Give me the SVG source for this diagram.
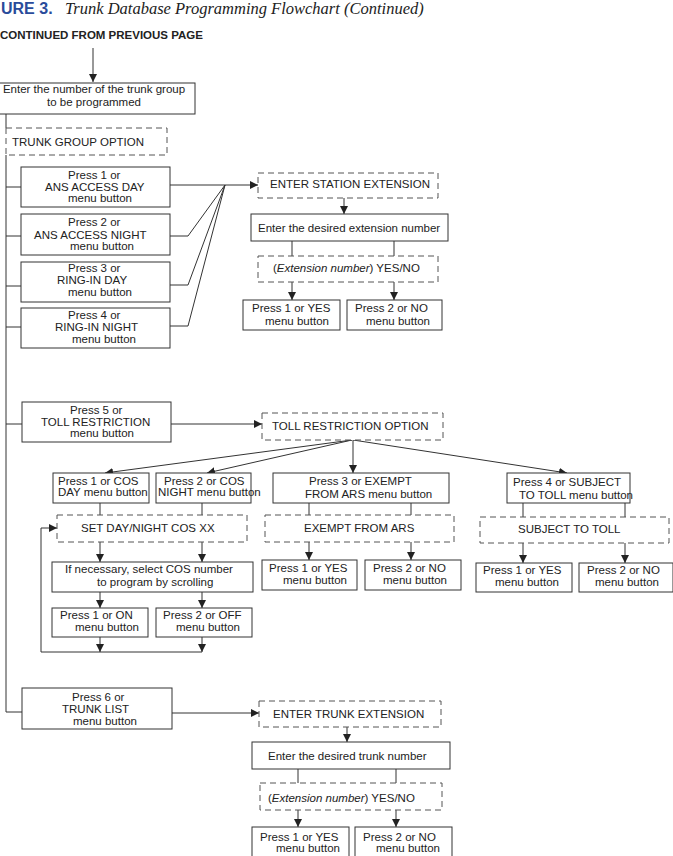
<svg xmlns="http://www.w3.org/2000/svg" width="673" height="856" viewBox="0 0 673 856">
<style>
.box{fill:#fff;stroke:#333;stroke-width:1}
.dbox{fill:#fff;stroke:#555;stroke-width:1;stroke-dasharray:6 4}
.t{font-family:"Liberation Sans",Arial,sans-serif;font-size:11.5px;fill:#222}
.ln{fill:none;stroke:#333;stroke-width:1}
.arr{marker-end:url(#ah)}
</style>
<defs>
<marker id="ah" viewBox="0 0 10 10" refX="10" refY="5" markerWidth="8" markerHeight="8" markerUnits="userSpaceOnUse" orient="auto">
<path d="M0,0 L10,5 L0,10 z" fill="#222"/>
</marker>
</defs>
<rect width="673" height="856" fill="#fff"/>

<g id="title">
<text x="1" y="14" font-family="Liberation Sans,Arial,sans-serif" font-weight="bold" font-size="16" fill="#2a4b9b">URE 3.</text>
<text x="65" y="14" font-family="Liberation Serif,Times New Roman,serif" font-style="italic" font-size="16.5" fill="#222">Trunk Database Programming Flowchart (Continued)</text>
</g>
<g id="continued">
<text x="0" y="39" class="t" font-weight="bold" font-size="12">CONTINUED FROM PREVIOUS PAGE</text>
</g>

<g id="connectors">
<path class="ln arr" d="M93,48 V82"/>
<path class="ln" d="M6,114 V128"/>
<path class="ln" d="M6,155 V712 H22"/>
<path class="ln" d="M6,187 H21 M6,236 H21 M6,286 H21 M6,327 H21 M6,424 H22"/>
<path class="ln arr" d="M170,185 H258"/>
<path class="ln" d="M170,236 H188 L225,185"/>
<path class="ln" d="M170,285 H188 L225,185"/>
<path class="ln" d="M170,326 H188 L225,185"/>
<path class="ln arr" d="M344,198 V214"/>
<path class="ln" d="M292,241 V256 M394,241 V256"/>
<path class="ln arr" d="M292,282 V300"/>
<path class="ln arr" d="M394,282 V300"/>

<path class="ln arr" d="M171,424 H262"/>
<path class="ln arr" d="M352,440 L105,473"/>
<path class="ln arr" d="M352,440 L207,473"/>
<path class="ln arr" d="M353,440 V473"/>
<path class="ln arr" d="M353,440 L567,473"/>

<path class="ln" d="M100,503 V515 M202,503 V515"/>
<path class="ln arr" d="M100,542 V562"/>
<path class="ln arr" d="M202,542 V562"/>
<path class="ln arr" d="M100,592 V608"/>
<path class="ln arr" d="M202,592 V608"/>
<path class="ln arr" d="M100,637 V652"/>
<path class="ln arr" d="M202,637 V652"/>
<path class="ln" d="M202,652 H41"/>
<path class="ln arr" d="M41,652 V528 H57"/>

<path class="ln" d="M309,503 V515 M411,503 V515"/>
<path class="ln arr" d="M309,542 V560"/>
<path class="ln arr" d="M411,542 V560"/>

<path class="ln" d="M523,503 V517 M625,503 V517"/>
<path class="ln arr" d="M523,543 V563"/>
<path class="ln arr" d="M625,543 V563"/>

<path class="ln arr" d="M172,713 H259"/>
<path class="ln arr" d="M347,727 V742"/>
<path class="ln" d="M298,769 V783 M396,769 V783"/>
<path class="ln arr" d="M298,810 V827"/>
<path class="ln arr" d="M396,810 V827"/>
</g>

<g id="enter-trunk-group">
<rect class="box" x="-1" y="83" width="196" height="31"/>
<text class="t" x="94" y="93" text-anchor="middle">Enter the number of the trunk group</text>
<text class="t" x="94" y="106" text-anchor="middle">to be programmed</text>
</g>
<g id="trunk-group-option">
<rect class="dbox" x="6" y="128" width="161" height="27"/>
<text class="t" x="12" y="146">TRUNK GROUP OPTION</text>
</g>

<g id="ans-access-day">
<rect class="box" x="21" y="167" width="149" height="40"/>
<text class="t" x="68" y="179">Press 1 or</text>
<text class="t" x="45" y="191">ANS ACCESS DAY</text>
<text class="t" x="68" y="202">menu button</text>
</g>
<g id="ans-access-night">
<rect class="box" x="21" y="214" width="149" height="41"/>
<text class="t" x="68" y="226">Press 2 or</text>
<text class="t" x="34" y="239">ANS ACCESS NIGHT</text>
<text class="t" x="70" y="250">menu button</text>
</g>
<g id="ring-in-day">
<rect class="box" x="21" y="262" width="149" height="40"/>
<text class="t" x="68" y="272">Press 3 or</text>
<text class="t" x="57" y="284">RING-IN DAY</text>
<text class="t" x="68" y="296">menu button</text>
</g>
<g id="ring-in-night">
<rect class="box" x="21" y="308" width="149" height="40"/>
<text class="t" x="68" y="319">Press 4 or</text>
<text class="t" x="55" y="331">RING-IN NIGHT</text>
<text class="t" x="72" y="343">menu button</text>
</g>

<g id="enter-station-extension">
<rect class="dbox" x="258" y="173" width="180" height="25"/>
<text class="t" x="270" y="188">ENTER STATION EXTENSION</text>
</g>
<g id="enter-desired-extension">
<rect class="box" x="251" y="214" width="197" height="27"/>
<text class="t" x="258" y="232">Enter the desired extension number</text>
</g>
<g id="extension-yes-no-1">
<rect class="dbox" x="258" y="256" width="180" height="26"/>
<text class="t" x="273" y="272">(<tspan font-style="italic">Extension number</tspan>) YES/NO</text>
</g>
<g id="yes-1">
<rect class="box" x="243" y="300" width="97" height="30"/>
<text class="t" x="252" y="312">Press 1 or YES</text>
<text class="t" x="265" y="325">menu button</text>
</g>
<g id="no-1">
<rect class="box" x="347" y="300" width="95" height="30"/>
<text class="t" x="355" y="312">Press 2 or NO</text>
<text class="t" x="366" y="325">menu button</text>
</g>

<g id="toll-restriction">
<rect class="box" x="22" y="402" width="149" height="40"/>
<text class="t" x="70" y="414">Press 5 or</text>
<text class="t" x="41" y="426">TOLL RESTRICTION</text>
<text class="t" x="70" y="437">menu button</text>
</g>
<g id="toll-restriction-option">
<rect class="dbox" x="262" y="413" width="181" height="27"/>
<text class="t" x="272" y="430">TOLL RESTRICTION OPTION</text>
</g>

<g id="cos-day">
<rect class="box" x="53" y="473" width="96" height="30"/>
<text class="t" x="58" y="485">Press 1 or COS</text>
<text class="t" x="58" y="496">DAY menu button</text>
</g>
<g id="cos-night">
<rect class="box" x="156" y="473" width="95" height="30"/>
<text class="t" x="164" y="485">Press 2 or COS</text>
<text class="t" x="158" y="496">NIGHT menu button</text>
</g>
<g id="exempt">
<rect class="box" x="273" y="473" width="176" height="30"/>
<text class="t" x="309" y="485">Press 3 or EXEMPT</text>
<text class="t" x="305" y="498">FROM ARS menu button</text>
</g>
<g id="subject">
<rect class="box" x="507" y="473" width="123" height="30"/>
<text class="t" x="513" y="486">Press 4 or SUBJECT</text>
<text class="t" x="519" y="499">TO TOLL menu button</text>
</g>

<g id="set-day-night-cos">
<rect class="dbox" x="57" y="515" width="190" height="27"/>
<text class="t" x="81" y="532">SET DAY/NIGHT COS XX</text>
</g>
<g id="select-cos">
<rect class="box" x="52" y="562" width="201" height="30"/>
<text class="t" x="65" y="573">If necessary, select COS number</text>
<text class="t" x="97" y="586">to program by scrolling</text>
</g>
<g id="cos-on">
<rect class="box" x="52" y="608" width="96" height="29"/>
<text class="t" x="60" y="619">Press 1 or ON</text>
<text class="t" x="75" y="631">menu button</text>
</g>
<g id="cos-off">
<rect class="box" x="156" y="608" width="96" height="29"/>
<text class="t" x="163" y="619">Press 2 or OFF</text>
<text class="t" x="176" y="631">menu button</text>
</g>

<g id="exempt-from-ars">
<rect class="dbox" x="265" y="515" width="189" height="27"/>
<text class="t" x="304" y="532">EXEMPT FROM ARS</text>
</g>
<g id="yes-2">
<rect class="box" x="262" y="560" width="95" height="30"/>
<text class="t" x="269" y="572">Press 1 or YES</text>
<text class="t" x="283" y="584">menu button</text>
</g>
<g id="no-2">
<rect class="box" x="365" y="560" width="96" height="30"/>
<text class="t" x="373" y="572">Press 2 or NO</text>
<text class="t" x="383" y="584">menu button</text>
</g>

<g id="subject-to-toll">
<rect class="dbox" x="480" y="517" width="189" height="26"/>
<text class="t" x="518" y="533">SUBJECT TO TOLL</text>
</g>
<g id="yes-3">
<rect class="box" x="476" y="563" width="96" height="29"/>
<text class="t" x="483" y="574">Press 1 or YES</text>
<text class="t" x="495" y="586">menu button</text>
</g>
<g id="no-3">
<rect class="box" x="579" y="563" width="94" height="29"/>
<text class="t" x="587" y="574">Press 2 or NO</text>
<text class="t" x="595" y="586">menu button</text>
</g>

<g id="trunk-list">
<rect class="box" x="22" y="688" width="150" height="41"/>
<text class="t" x="72" y="701">Press 6 or</text>
<text class="t" x="62" y="713">TRUNK LIST</text>
<text class="t" x="73" y="725">menu button</text>
</g>
<g id="enter-trunk-extension">
<rect class="dbox" x="259" y="701" width="182" height="26"/>
<text class="t" x="273" y="718">ENTER TRUNK EXTENSION</text>
</g>
<g id="enter-desired-trunk">
<rect class="box" x="252" y="742" width="198" height="27"/>
<text class="t" x="268" y="760">Enter the desired trunk number</text>
</g>
<g id="extension-yes-no-2">
<rect class="dbox" x="260" y="783" width="182" height="27"/>
<text class="t" x="268" y="802">(<tspan font-style="italic">Extension number</tspan>) YES/NO</text>
</g>
<g id="yes-4">
<rect class="box" x="252" y="827" width="97" height="30"/>
<text class="t" x="260" y="841">Press 1 or YES</text>
<text class="t" x="276" y="852">menu button</text>
</g>
<g id="no-4">
<rect class="box" x="355" y="827" width="97" height="30"/>
<text class="t" x="363" y="841">Press 2 or NO</text>
<text class="t" x="376" y="852">menu button</text>
</g>
</svg>
